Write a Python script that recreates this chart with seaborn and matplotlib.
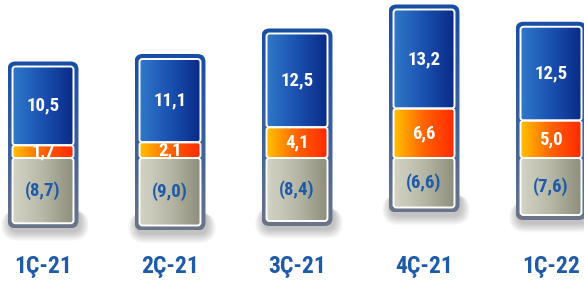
import numpy as np
import pandas as pd
import matplotlib
matplotlib.use("Agg")
import matplotlib.pyplot as plt
from matplotlib import font_manager
from matplotlib.patches import FancyBboxPatch
from matplotlib.colors import LinearSegmentedColormap
import seaborn as sns

# --- data ---
periods = ["1Ç-21", "2Ç-21", "3Ç-21", "4Ç-21", "1Ç-22"]
blue_vals = [10.5, 11.1, 12.5, 13.2, 12.5]
orange_vals = [1.7, 2.1, 4.1, 6.6, 5.0]
gray_vals = [8.7, 9.0, 8.4, 6.6, 7.6]  # shown in parentheses, drawn below zero

# --- layout (pixels) ---
W, H, DPI = 584, 285, 100
PX_X = 127.0    # px per category step
PX_Y = 7.5      # px per value unit
ZERO_PX = 158   # y pixel of the zero line (from top)
FIRST_PX = 43   # x pixel of first bar centre
BAR_W = 0.48

TEXT_BLUE = "#1d5aa9"
BLUE = ["#3078c9", "#1a50b0", "#0a2a86"]
ORANGE = ["#ffc000", "#ff6200", "#ff2800"]
GRAY = ["#d4d4c6", "#b7b7a6", "#8d8d7b"]
FRAME = ["#6b7589", "#3a5f9e", "#184ea6"]  # bottom -> top


def pick_font(names):
    for name in names:
        try:
            font_manager.findfont(font_manager.FontProperties(family=name),
                                  fallback_to_default=False)
            return name
        except ValueError:
            continue
    return "DejaVu Sans"


narrow = pick_font(["Liberation Sans Narrow", "Roboto Condensed", "Arial Narrow", "Roboto"])
wide_narrow = narrow in ("Roboto",)

sns.set_theme(style="white")
plt.rcParams["font.family"] = [narrow, "DejaVu Sans"]

fig = plt.figure(figsize=(W / DPI, H / DPI), dpi=DPI)
fig.patch.set_facecolor("white")
ax = fig.add_axes([0, 0, 1, 1])

df = pd.DataFrame({
    "period": periods,
    "blue": blue_vals,
    "orange": orange_vals,
    "gray": [-v for v in gray_vals],
})

sns.barplot(data=df, x="period", y="gray", color=GRAY[1], width=BAR_W,
            errorbar=None, ax=ax)
sns.barplot(data=df, x="period", y="orange", color=ORANGE[1], width=BAR_W,
            errorbar=None, ax=ax)
sns.barplot(data=df, x="period", y="blue", bottom=df["orange"].to_numpy(),
            color=BLUE[1], width=BAR_W, errorbar=None, ax=ax)

ax.set_xlim(-FIRST_PX / PX_X, (W - FIRST_PX) / PX_X)
ax.set_ylim(-(H - ZERO_PX) / PX_Y, ZERO_PX / PX_Y)
ax.axis("off")

ASPECT = PX_X / PX_Y
n = len(periods)
patches = list(ax.patches)
gray_p, orange_p, blue_p = patches[:n], patches[n:2 * n], patches[2 * n:3 * n]


def box_of(p):
    x0, y0, w, h = p.get_x(), p.get_y(), p.get_width(), p.get_height()
    if h < 0:
        y0, h = y0 + h, -h
    return x0, y0, w, h


def rounded(x0, y0, w, h, r_px, **kw):
    return FancyBboxPatch((x0, y0), w, h,
                          boxstyle=f"round,pad=0,rounding_size={r_px / PX_X}",
                          mutation_aspect=ASPECT, **kw)


def gradient(patch, box, colors, horizontal=True, zorder=2):
    cmap = LinearSegmentedColormap.from_list("g", colors)
    g = np.linspace(0, 1, 256)
    grad = g.reshape(1, -1) if horizontal else g.reshape(-1, 1)
    x0, y0, w, h = box
    im = ax.imshow(grad, cmap=cmap, extent=[x0, x0 + w, y0, y0 + h],
                   aspect="auto", origin="lower", interpolation="bicubic",
                   zorder=zorder)
    im.set_clip_path(patch)


fx, fy = 5 / PX_X, 5 / PX_Y
for i in range(n):
    gx, gy, gw, gh = box_of(gray_p[i])
    bx, by, bw, bh = box_of(blue_p[i])
    x0, x1 = gx - fx, gx + gw + fx
    y0, y1 = gy - fy, by + bh + fy

    # soft drop shadow, peeking out around the bottom of the frame
    for k in range(8):
        d = k * 1.2
        sh = rounded(x0 + (2 - d) / PX_X, y0 - (4 + d) / PX_Y,
                     (x1 - x0) + 2 * d / PX_X, (22 + d) / PX_Y,
                     8 + d, facecolor="black", edgecolor="none",
                     alpha=0.03, zorder=0.5)
        ax.add_patch(sh)

    frame = rounded(x0, y0, x1 - x0, y1 - y0, 8, facecolor="none",
                    edgecolor="none", zorder=1)
    ax.add_patch(frame)
    gradient(frame, (x0, y0, x1 - x0, y1 - y0), FRAME, horizontal=False, zorder=1)

for group, cols in ((gray_p, GRAY), (orange_p, ORANGE), (blue_p, BLUE)):
    for p in group:
        p.set_visible(False)
        box = box_of(p)
        seg = rounded(*box, 3, facecolor="none", edgecolor="none", zorder=2)
        ax.add_patch(seg)
        gradient(seg, box, cols, zorder=2)
        edge = rounded(*box, 3, facecolor="none", edgecolor="white",
                       linewidth=1.4, zorder=3)
        ax.add_patch(edge)


def fmt(v):
    return f"{v:.1f}".replace(".", ",")


val_size = 12 if wide_narrow else 13.5
lab_size = 15 if wide_narrow else 17
for i in range(n):
    for p, txt, col in ((blue_p[i], fmt(blue_vals[i]), "white"),
                        (orange_p[i], fmt(orange_vals[i]), "white"),
                        (gray_p[i], f"({fmt(gray_vals[i])})", TEXT_BLUE)):
        x0, y0, w, h = box_of(p)
        ax.text(x0 + w / 2, y0 + h / 2, txt, ha="center", va="center",
                color=col, fontsize=val_size, fontweight="bold", zorder=5)
    ax.text(i, 1 - 266 / H, periods[i], transform=ax.get_xaxis_transform(),
            ha="center", va="center", color=TEXT_BLUE, fontsize=lab_size,
            fontweight="bold", zorder=5)

ax.set_xlim(-FIRST_PX / PX_X, (W - FIRST_PX) / PX_X)
ax.set_ylim(-(H - ZERO_PX) / PX_Y, ZERO_PX / PX_Y)

fig.savefig("out.png", dpi=DPI, facecolor="white")
